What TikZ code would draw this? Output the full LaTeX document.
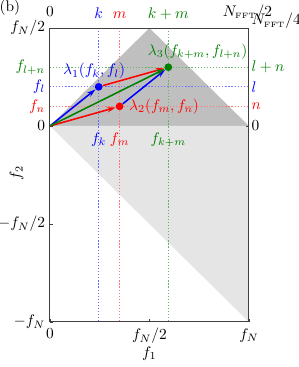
\documentclass[tikz,border=0pt]{standalone}
\usepackage{amsmath,amssymb}
\usepackage{tikz}
\usetikzlibrary{positioning,arrows.meta}
\definecolor{mplgreen}{rgb}{0,0.5,0}

\begin{document}
\begin{tikzpicture}[
    x=4.546cm, y=4.477cm,
    vec/.style={-{Stealth[length=5.5pt,width=3.4pt]}, line width=1pt},
    guide/.style={line width=0.8pt, dash pattern=on 0.8pt off 1.2pt},
    dot/.style={circle, inner sep=0pt, minimum size=5pt},
    axtick/.style={line width=0.5pt, black!75},
    leftlab/.style={anchor=east, inner sep=3pt},
    rightlab/.style={anchor=west, inner sep=1.5pt},
    toplab/.style={anchor=base, yshift=6pt},
    botlab/.style={anchor=north, inner sep=4pt}
]
    \useasboundingbox (-0.251,-1.230) rectangle (1.251,0.643);

    % allowed regions
    \fill[black!25] (0,0) -- (0.5,0.5) -- (1,0) -- cycle;
    \fill[black!10] (0,0) -- (1,0) -- (1,-1) -- cycle;

    % index guides
    \draw[guide, blue!60] (0.245,0.5) -- (0.245,-1);
    \draw[guide, red!55] (0.35,0.5) -- (0.35,-1);
    \draw[guide, mplgreen!60] (0.595,0.5) -- (0.595,-1);
    \draw[guide, mplgreen!60] (0,0.3) -- (1,0.3);
    \draw[guide, blue!55] (0,0.2) -- (1,0.2);
    \draw[guide, red!55] (0,0.1) -- (1,0.1);

    % frame and ticks
    \draw[black!75, line width=0.65pt] (0,-1) rectangle (1,0.5);
    \foreach \y in {0.5,0,-0.5,-1} \draw[axtick] (0,\y) -- ++(2pt,0);
    \foreach \y in {0.5,0} \draw[axtick] (1,\y) -- ++(-2pt,0);
    \foreach \x in {0,0.5,1} \draw[axtick] (\x,-1) -- ++(0,2pt);

    % wave vectors
    \coordinate (orig) at (0,0);
    \node[dot, fill=blue] (lamA) at (0.245,0.2) {};
    \node[dot, fill=red] (lamB) at (0.35,0.1) {};
    \node[dot, fill=mplgreen] (lamC) at (0.595,0.3) {};

    \draw[vec, blue] (orig) -- (lamA);
    \draw[vec, red] (orig) -- (lamB);
    \draw[vec, red] (lamA) -- (lamC);
    \draw[vec, blue] (lamB) -- (lamC);
    \draw[vec, mplgreen] (orig) -- (lamC);

    \node[text=blue, above=-1pt of lamA, xshift=-3pt] (labA) {$\lambda_1(f_k,f_l)$};
    \node[text=red, right=0pt of lamB] (labB) {$\lambda_2(f_m,f_n)$};
    \node[text=mplgreen, above=-1pt of lamC, xshift=19pt] (labC) {$\lambda_3(f_{k+m},f_{l+n})$};

    % left axis
    \node[leftlab] (lN2) at (0,0.5) {$f_N/2$};
    \node[leftlab, text=mplgreen] (lln) at (0,0.3) {$f_{l+n}$};
    \node[leftlab, text=blue] (ll) at (0,0.2) {$f_l$};
    \node[leftlab, text=red] (ln) at (0,0.1) {$f_n$};
    \node[leftlab] (l0) at (0,0) {$0$};
    \node[leftlab] (lmN2) at (0,-0.5) {$-f_N/2$};
    \node[leftlab] (lmN) at (0,-1) {$-f_N$};
    \node[rotate=90] (ylab) at (-0.168,-0.24) {$f_2$};

    % bottom axis
    \node[botlab] (b0) at (0,-1) {$0$};
    \node[botlab] (bN2) at (0.5,-1) {$f_N/2$};
    \node[botlab] (bN) at (1,-1) {$f_N$};
    \node (xlab) at (0.5,-1.161) {$f_1$};
    \node[botlab, text=blue] (bk) at (0.245,0) {$f_k$};
    \node[botlab, text=red] (bm) at (0.35,0) {$f_m$};
    \node[botlab, text=mplgreen] (bkm) at (0.595,0) {$f_{k+m}$};

    % top axis
    \node[toplab, yshift=1.5pt] (t0) at (0,0.5) {$0$};
    \node[toplab, text=blue] (tk) at (0.245,0.5) {$k$};
    \node[toplab, text=red] (tm) at (0.35,0.5) {$m$};
    \node[toplab, text=mplgreen] (tkm) at (0.595,0.5) {$k+m$};
    \node[toplab, yshift=1.5pt, xshift=-1pt] (tN) at (1,0.5) {$N_{\scriptscriptstyle\mathrm{FFT}}/2$};

    % right axis
    \node[rightlab, yshift=4.5pt] (rN4) at (1,0.5) {$N_{\scriptscriptstyle\mathrm{FFT}}/4$};
    \node[rightlab, text=mplgreen] (rln) at (1,0.3) {$l+n$};
    \node[rightlab, text=blue] (rl) at (1,0.2) {$l$};
    \node[rightlab, text=red] (rn) at (1,0.1) {$n$};
    \node[rightlab] (r0) at (1,0) {$0$};

    \node (panel) at (-0.201,0.602) {(b)};
\end{tikzpicture}
\end{document}
